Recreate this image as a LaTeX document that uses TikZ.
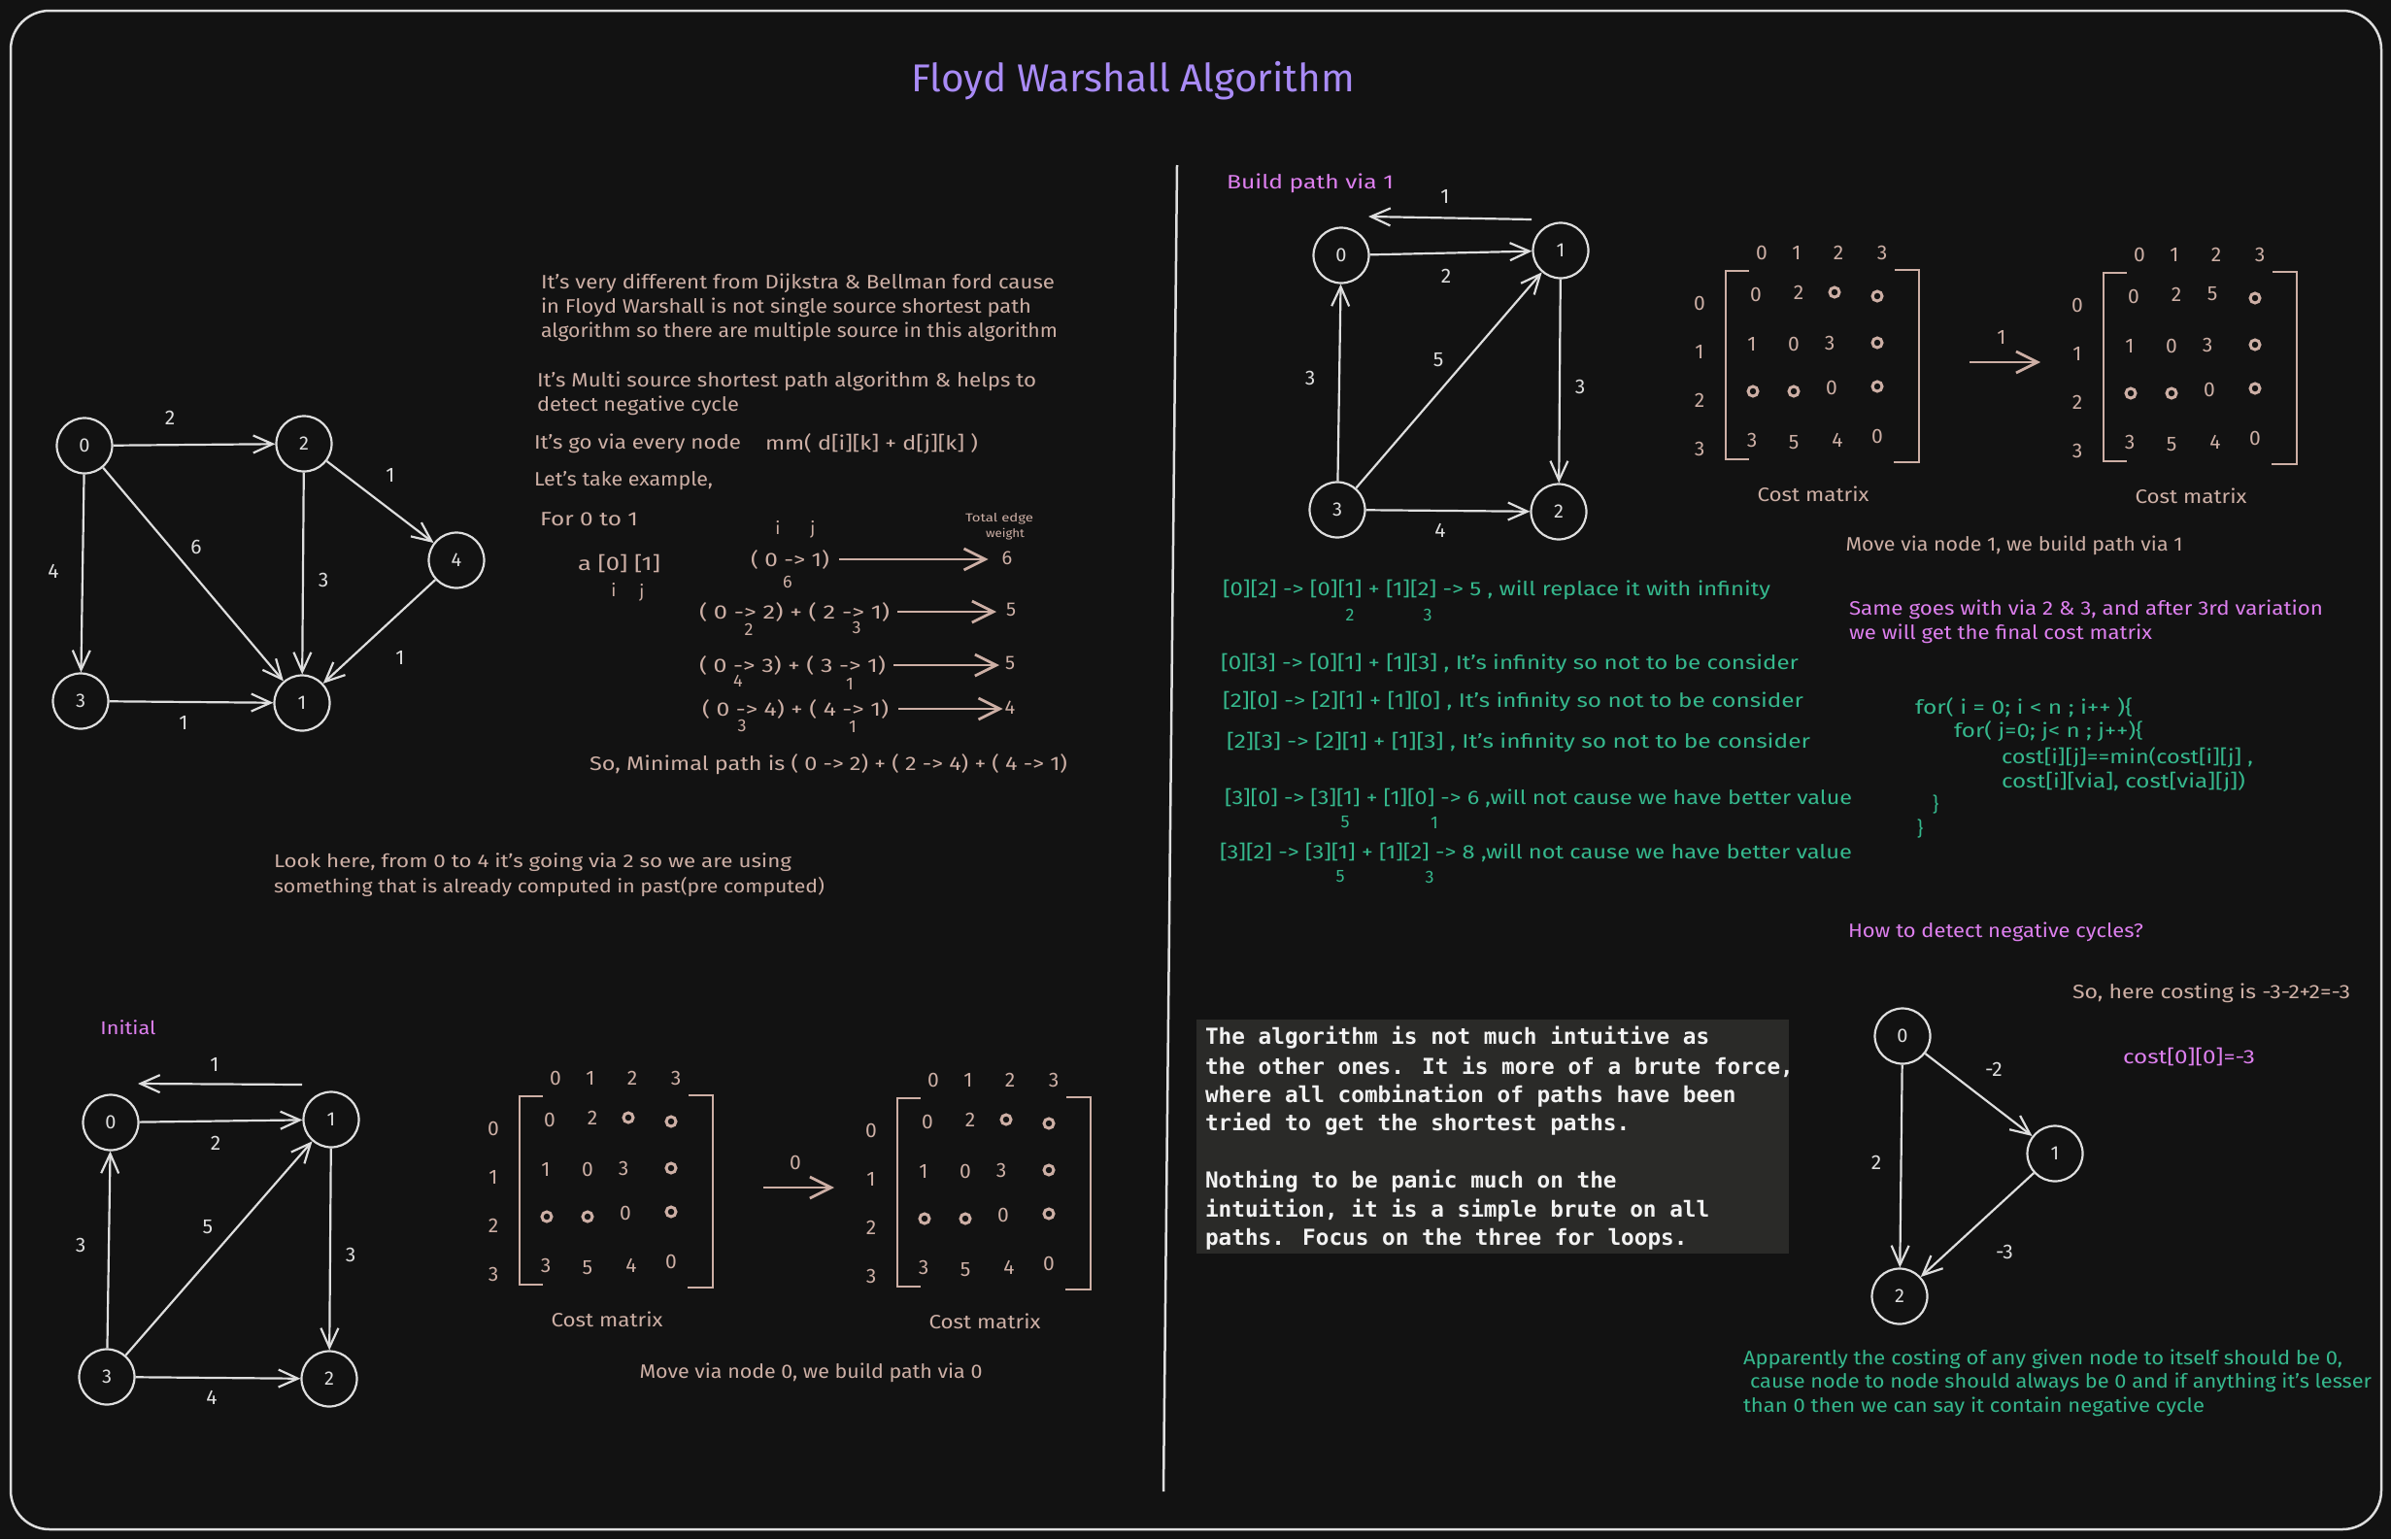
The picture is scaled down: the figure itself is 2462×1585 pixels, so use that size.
\documentclass[tikz,border=0pt]{standalone}
\usepackage{fontspec}
\usepackage{graphicx}
\setmainfont{Fira Sans}
\newfontfamily\monof{DejaVu Sans Mono}
\usetikzlibrary{arrows.meta,calc}
\definecolor{bgc}{HTML}{121212}
\definecolor{linec}{HTML}{DEDEDE}
\definecolor{tanc}{HTML}{CDAFA5}
\definecolor{grc}{HTML}{35B88D}
\definecolor{pkc}{HTML}{DD7FEE}
\definecolor{titc}{HTML}{A98BF6}
\definecolor{boxc}{HTML}{2A2A28}
\definecolor{boxt}{HTML}{F2F2F2}
\newcommand\fw[2]{\resizebox{#1pt}{\height}{#2}}
\tikzset{
 ltxt/.style={inner sep=0pt, outer sep=0pt, anchor=west, font=\fontsize{20}{24}\selectfont},
 ctxt/.style={inner sep=0pt, outer sep=0pt, anchor=center, font=\fontsize{20}{24}\selectfont},
 tanT/.style={text=tanc}, grT/.style={text=grc}, pkT/.style={text=pkc},
 subd/.style={inner sep=0pt, font=\fontsize{18}{20}\selectfont},
 gnode/.style={circle, draw=linec, line width=2.2pt, minimum size=57pt, inner sep=0pt, text=linec, font=\fontsize{20}{22}\selectfont},
 gedge/.style={draw=linec, line width=2.2pt, -{Straight Barb[length=20pt,width=18pt]}},
 elab/.style={inner sep=0pt, text=linec, font=\fontsize{21}{24}\selectfont},
 mnum/.style={inner sep=0pt, text=tanc, font=\fontsize{21}{24}\selectfont},
 minf/.style={circle, draw=tanc, line width=3pt, minimum size=10pt, inner sep=0pt},
 mbr/.style={draw=tanc, line width=2.5pt},
 tarrow/.style={draw=tanc, line width=2.8pt, -{Straight Barb[length=22pt,width=22pt]}},
 monot/.style={inner sep=0pt, outer sep=0pt, anchor=west, text=boxt, font={\monof\fontsize{22.7}{26}\selectfont\bfseries}},
}
\newcommand\costmat[4]{%
\begin{scope}[shift={(#2,#3)}]
\node[mnum] (#1h0) at (572,1110) {0};
\node[mnum] (#1h1) at (608,1110) {1};
\node[mnum] (#1h2) at (651,1110) {2};
\node[mnum] (#1h3) at (696,1110) {3};
\node[mnum] (#1v0) at (508,1162) {0};
\node[mnum] (#1v1) at (508,1212) {1};
\node[mnum] (#1v2) at (508,1262) {2};
\node[mnum] (#1v3) at (508,1312) {3};
\draw[mbr] (559,1129) -- (535,1129) -- (535,1323) -- (559,1323);
\draw[mbr] (709,1128) -- (734,1128) -- (734,1326) -- (708,1326);
\node[mnum] (#1e00) at (566,1153) {0};
\node[mnum] (#1e01) at (610,1151) {2};
\node (#1e02) at (647,1151) #4;
\node[minf] (#1e03) at (691,1155) {};
\node[mnum] (#1e10) at (562,1204) {1};
\node[mnum] (#1e11) at (605,1204) {0};
\node[mnum] (#1e12) at (642,1203) {3};
\node[minf] (#1e13) at (691,1203) {};
\node[minf] (#1e20) at (563,1253) {};
\node[minf] (#1e21) at (605,1253) {};
\node[mnum] (#1e22) at (644,1249) {0};
\node[minf] (#1e23) at (691,1248) {};
\node[mnum] (#1e30) at (562,1303) {3};
\node[mnum] (#1e31) at (605,1306) {5};
\node[mnum] (#1e32) at (650,1303) {4};
\node[mnum] (#1e33) at (691,1299) {0};
\node[ctxt,tanT] (#1cap) at (625,1359) {\fw{115}{Cost matrix}};
\end{scope}}
\begin{document}
\begin{tikzpicture}[x=1pt,y=-1pt]
\useasboundingbox (0,0) rectangle (2462,1585);
\fill[bgc] (0,0) rectangle (2462,1585);
\draw[linec, line width=2.5pt, rounded corners=40pt] (11,11) rectangle (2452,1575);
\draw[linec, line width=2.5pt] (1212,170) -- (1198,1536);

% title
\node[ltxt, text=titc, font=\fontsize{40}{44}\selectfont] (title) at (938,83) {\fw{457}{Floyd Warshall Algorithm}};

% ---------- graph 1 ----------
\node[gnode] (a0) at (87,459) {0};
\node[gnode] (a2) at (313,457) {2};
\node[gnode] (a4) at (470,577) {4};
\node[gnode] (a3) at (83,722) {3};
\node[gnode] (a1) at (311,724) {1};
\draw[gedge] (a0) -- (a2);
\draw[gedge] (a2) -- (a4);
\draw[gedge] (a0) -- (a1);
\draw[gedge] (a0) -- (a3);
\draw[gedge] (a2) -- (a1);
\draw[gedge] (a4) -- (a1);
\draw[gedge] (a3) -- (a1);
\node[elab] (la1) at (175,430) {2};
\node[elab] (la2) at (402,489) {1};
\node[elab] (la3) at (202,563) {6};
\node[elab] (la4) at (55,588) {4};
\node[elab] (la5) at (333,597) {3};
\node[elab] (la6) at (412,677) {1};
\node[elab] (la7) at (189,744) {1};

% ---------- explanation texts ----------
\node[ltxt,tanT] (t1a) at (557,292) {\fw{529}{It's very different from Dijkstra \& Bellman ford cause}};
\node[ltxt,tanT] (t1b) at (557,317) {\fw{505}{in Floyd Warshall is not single source shortest path}};
\node[ltxt,tanT] (t1c) at (557,342) {\fw{532}{algorithm so there are multiple source in this algorithm}};
\node[ltxt,tanT] (t2a) at (553,393) {\fw{514}{It's Multi source shortest path algorithm \& helps to}};
\node[ltxt,tanT] (t2b) at (553,418) {\fw{208}{detect negative cycle}};
\node[ltxt,tanT] (t3a) at (550,457) {\fw{213}{It's go via every node}};
\node[ltxt,tanT] (t3b) at (788,457) {\fw{219}{mm( d[i][k] + d[j][k] )}};
\node[ltxt,tanT] (t4) at (550,495) {\fw{184}{Let's take example,}};
\node[ltxt,tanT] (t5) at (556,535) {\fw{101}{For 0 to 1}};
\node[ctxt,tanT,font=\fontsize{18}{20}\selectfont] (ti1) at (801,543) {i};
\node[ctxt,tanT,font=\fontsize{18}{20}\selectfont] (tj1) at (837,545) {j};
\node[ctxt,tanT,font=\fontsize{12}{14}\selectfont] (tw1) at (1029,534) {\fw{70}{Total edge}};
\node[ctxt,tanT,font=\fontsize{12}{14}\selectfont] (tw2) at (1035,550) {\fw{40}{weight}};
\node[ltxt,tanT] (ta) at (595,580) {\fw{85}{a [0] [1]}};
\node[ctxt,tanT,font=\fontsize{18}{20}\selectfont] (ti2) at (632,607) {i};
\node[ctxt,tanT,font=\fontsize{18}{20}\selectfont] (tj2) at (661,610) {j};

\node[ltxt,tanT] (r1) at (773,576) {\fw{81}{( 0 -> 1)}};
\node[subd,tanT] (r1s) at (811,599) {6};
\node[ctxt,tanT] (v1) at (1037,575) {6};
\draw[tarrow, shorten <=10pt, shorten >=14pt] (r1.east) -- (r1.east -| v1.west);

\node[ltxt,tanT] (r2) at (720,630) {\fw{196}{( 0 -> 2) + ( 2 -> 1)}};
\node[subd,tanT] (r2s1) at (771,648) {2};
\node[subd,tanT] (r2s2) at (882,646) {3};
\node[ctxt,tanT] (v2) at (1041,628) {5};
\draw[tarrow, shorten <=8pt, shorten >=10pt] (r2.east) -- (r2.east -| v2.west);

\node[ltxt,tanT] (r3) at (720,685) {\fw{192}{( 0 -> 3) + ( 3 -> 1)}};
\node[subd,tanT] (r3s1) at (760,701) {4};
\node[subd,tanT] (r3s2) at (875,704) {1};
\node[ctxt,tanT] (v3) at (1040,683) {5};
\draw[tarrow, shorten <=8pt, shorten >=6pt] (r3.east) -- (r3.east -| v3.west);

\node[ltxt,tanT] (r4) at (723,730) {\fw{192}{( 0 -> 4) + ( 4 -> 1)}};
\node[subd,tanT] (r4s1) at (764,747) {3};
\node[subd,tanT] (r4s2) at (878,748) {1};
\node[ctxt,tanT] (v4) at (1040,729) {4};
\draw[tarrow, shorten <=10pt, shorten >=2pt] (r4.east) -- (r4.east -| v4.west);

\node[ltxt,tanT] (t6) at (607,787) {\fw{492}{So, Minimal path is ( 0 -> 2) + ( 2 -> 4) + ( 4 -> 1)}};

\node[ltxt,tanT,font=\fontsize{19}{22}\selectfont] (l1) at (282,888) {\fw{533}{Look here, from 0 to 4 it's going via 2 so we are using}};
\node[ltxt,tanT,font=\fontsize{19}{22}\selectfont] (l2) at (282,913) {\fw{567}{something that is already computed in past(pre computed)}};

% ---------- graph 2 (initial) ----------
\node[ctxt,pkT,font=\fontsize{19}{22}\selectfont] (init) at (132,1058) {\fw{57}{Initial}};
\node[gnode] (b0) at (114,1156) {0};
\node[gnode] (b1) at (341,1153) {1};
\node[gnode] (b3) at (110,1418) {3};
\node[gnode] (b2) at (339,1420) {2};
\draw[gedge] ($(b1)+(-30,-36)$) -- ($(b0)+(28,-40)$);
\draw[gedge] (b0) -- (b1);
\draw[gedge] (b3) -- (b0);
\draw[gedge] (b3) -- (b1);
\draw[gedge] (b1) -- (b2);
\draw[gedge] (b3) -- (b2);
\node[elab] (lb1) at (221,1096) {1};
\node[elab] (lb2) at (222,1177) {2};
\node[elab] (lb3) at (83,1282) {3};
\node[elab] (lb4) at (214,1264) {5};
\node[elab] (lb5) at (361,1292) {3};
\node[elab] (lb6) at (218,1439) {4};

% ---------- matrices ----------
\costmat{ma}{0}{0}{[minf]{}}
\costmat{mb}{389}{2}{[minf]{}}
\coordinate (arA1) at (786,1223);
\coordinate (arA2) at (859,1223);
\draw[tarrow] (arA1) -- (arA2);
\node[mnum] (arAl) at (819,1197) {0};
\node[ctxt,tanT] (mv0) at (835,1414) {\fw{353}{Move via node 0, we build path via 0}};

\costmat{mc}{1242}{-850}{[minf]{}}
\costmat{md}{1631}{-848}{[mnum]{5}}
\coordinate (arB1) at (2028,373);
\coordinate (arB2) at (2101,373);
\draw[tarrow] (arB1) -- (arB2);
\node[mnum] (arBl) at (2061,347) {1};
\node[ctxt,tanT] (mv1) at (2074,562) {\fw{347}{Move via node 1, we build path via 1}};

% ---------- graph 3 ----------
\node[ltxt,pkT] (bp1) at (1263,189) {\fw{172}{Build path via 1}};
\node[gnode] (c0) at (1381,263) {0};
\node[gnode] (c1) at (1607,258) {1};
\node[gnode] (c3) at (1377,525) {3};
\node[gnode] (c2) at (1605,527) {2};
\draw[gedge] ($(c1)+(-30,-32)$) -- ($(c0)+(28,-40)$);
\draw[gedge] (c0) -- (c1);
\draw[gedge] (c3) -- (c0);
\draw[gedge] (c3) -- (c1);
\draw[gedge] (c1) -- (c2);
\draw[gedge] (c3) -- (c2);
\node[elab] (lc1) at (1488,202) {1};
\node[elab] (lc2) at (1489,284) {2};
\node[elab] (lc3) at (1349,389) {3};
\node[elab] (lc4) at (1481,371) {5};
\node[elab] (lc5) at (1627,398) {3};
\node[elab] (lc6) at (1483,546) {4};

% ---------- green explanation ----------
\node[ltxt,grT] (g1) at (1259,607) {\fw{564}{[0][2] -> [0][1] + [1][2] -> 5 , will replace it with infinity}};
\node[subd,grT] (g1s1) at (1390,633) {2};
\node[subd,grT] (g1s2) at (1470,633) {3};
\node[ltxt,grT] (g2) at (1257,683) {\fw{595}{[0][3] -> [0][1] + [1][3] , It's infinity so not to be consider}};
\node[ltxt,grT] (g3) at (1259,722) {\fw{598}{[2][0] -> [2][1] + [1][0] , It's infinity so not to be consider}};
\node[ltxt,grT] (g4) at (1263,764) {\fw{601}{[2][3] -> [2][1] + [1][3] , It's infinity so not to be consider}};
\node[ltxt,grT] (g5) at (1261,822) {\fw{646}{[3][0] -> [3][1] + [1][0] -> 6 ,will not cause we have better value}};
\node[subd,grT] (g5s1) at (1385,847) {5};
\node[subd,grT] (g5s2) at (1477,847) {1};
\node[ltxt,grT] (g6) at (1256,878) {\fw{651}{[3][2] -> [3][1] + [1][2] -> 8 ,will not cause we have better value}};
\node[subd,grT] (g6s1) at (1380,903) {5};
\node[subd,grT] (g6s2) at (1472,903) {3};

% ---------- pink + code ----------
\node[ltxt,pkT] (p1) at (1904,628) {\fw{488}{Same goes with via 2 \& 3, and after 3rd variation}};
\node[ltxt,pkT] (p2) at (1904,653) {\fw{312}{we will get the final cost matrix}};
\node[ltxt,grT] (k1) at (1972,729) {\fw{224}{for( i = 0; i < n ; i++ )\{}};
\node[ltxt,grT] (k2) at (2012,753) {\fw{195}{for( j=0; j< n ; j++)\{}};
\node[ltxt,grT] (k3) at (2061,780) {\fw{259}{cost[i][j]==min(cost[i][j] ,}};
\node[ltxt,grT] (k4) at (2061,805) {\fw{251}{cost[i][via], cost[via][j])}};
\node[ctxt,grT] (k5) at (1993,828) {\}};
\node[ctxt,grT] (k6) at (1977,853) {\}};
\node[ltxt,pkT] (hq) at (1903,960) {\fw{304}{How to detect negative cycles?}};

% ---------- mono box ----------
\fill[boxc] (1232,1050) rectangle (1842,1291);
\node[monot] (m1) at (1241,1069) {The algorithm is not much intuitive as};
\node[monot] (m2) at (1241,1099) {the other ones. It is more of a brute force,};
\node[monot] (m3) at (1241,1129) {where all combination of paths have been};
\node[monot] (m4) at (1241,1158) {tried to get the shortest paths.};
\node[monot] (m5) at (1241,1217) {Nothing to be panic much on the};
\node[monot] (m6) at (1241,1247) {intuition, it is a simple brute on all};
\node[monot] (m7) at (1241,1276) {paths. Focus on the three for loops.};

% ---------- negative cycle graph ----------
\node[ltxt,tanT] (sc) at (2134,1023) {\fw{286}{So, here costing is -3-2+2=-3}};
\node[ltxt,pkT] (cc) at (2186,1088) {\fw{136}{cost[0][0]=-3}};
\node[gnode] (d0) at (1959,1067) {0};
\node[gnode] (d1) at (2116,1188) {1};
\node[gnode] (d2) at (1956,1335) {2};
\draw[gedge] (d0) -- (d1);
\draw[gedge] (d0) -- (d2);
\draw[gedge] (d1) -- (d2);
\node[elab] (ld1) at (2053,1101) {-2};
\node[elab] (ld2) at (1932,1197) {2};
\node[elab] (ld3) at (2064,1289) {-3};
\node[ltxt,grT] (ap1) at (1795,1400) {\fw{617}{Apparently the costing of any given node to itself should be 0,}};
\node[ltxt,grT] (ap2) at (1802,1424) {\fw{640}{cause node to node should always be 0 and if anything it's lesser}};
\node[ltxt,grT] (ap3) at (1795,1449) {\fw{475}{than 0 then we can say it contain negative cycle}};
\end{tikzpicture}
\end{document}
